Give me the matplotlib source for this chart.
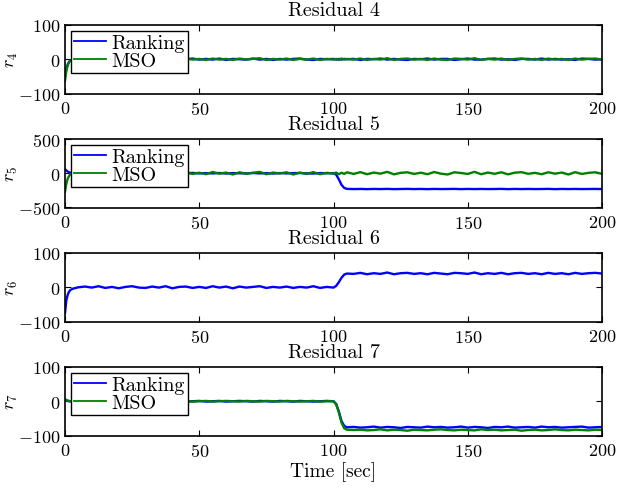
import matplotlib
matplotlib.use("Agg")
import matplotlib.pyplot as plt
from matplotlib.ticker import FuncFormatter

plt.rcParams['mathtext.fontset'] = 'cm'
plt.rcParams['font.family'] = 'serif'
plt.rcParams['font.serif'] = ['cmr10', 'DejaVu Serif']
plt.rcParams['axes.formatter.use_mathtext'] = True

# ---------------- data ----------------
T = [0, 0.5, 1, 1.5, 2, 3, 4, 5,
     7.5, 10, 12.5, 15, 17.5, 20, 22.5, 25, 27.5, 30,
     32.5, 35, 37.5, 40, 42.5, 45, 47.5, 50, 52.5, 55,
     57.5, 60, 62.5, 65, 67.5, 70, 72.5, 75, 77.5, 80,
     82.5, 85, 87.5, 90, 92.5, 95, 97.5, 100,
     101, 102, 103, 104, 105,
     107.5, 110, 112.5, 115, 117.5, 120, 122.5, 125, 127.5, 130,
     132.5, 135, 137.5, 140, 142.5, 145, 147.5, 150, 152.5, 155,
     157.5, 160, 162.5, 165, 167.5, 170, 172.5, 175, 177.5, 180,
     182.5, 185, 187.5, 190, 192.5, 195, 197.5, 200]

R4_RANKING = ([-48, -28, -15, -8, -3, -1, 0, 1] +
              [-1, 1, -2, 1, 2, -1, 0, -2, 1, 1,
               -1, 2, -1, 1, -2, 0, 2, -1, 1, -1,
               2, -2, 1, 0, -1, 2, -1, 1, -2, 1,
               -1, 1, 2, -1, -2, 1, 0, 1] +
              [-1, 1, -1, 1, 0] +
              [1, -2, 1, 0, 2, -1, 1, -1, -2, 1,
               0, 2, -1, 1, 1, -2, 0, 2, -1, -1,
               1, 2, -1, 0, -2, 1, 1, -1, 2, -1,
               1, -1, 0, -2, 2, 1, -1, 0])
R4_MSO = ([-62, -35, -18, -9, -4, -1, 1, -1] +
          [2, -1, 2, -2, 1, -2, 1, 3, -1, -2,
           1, -1, 2, -2, 1, 2, -1, 1, -2, 2,
           -1, 1, -2, 2, -1, 1, 3, -2, 1, -1,
           2, -2, 1, -1, 2, -2, 1, -1] +
          [1, -2, 2, -1, 1] +
          [-1, 2, -2, 1, -1, 3, -2, 1, 2, -1,
           1, -2, 2, -1, -2, 2, 1, -1, 3, -2,
           1, -1, 2, -2, 1, 2, -1, 1, -2, 2,
           -1, 1, -2, 2, -1, 1, 2, -1])

R5_RANKING = ([60, 40, 25, 15, 8, 3, 0, 2] +
              [-3, 4, -4, 2, 4, -2, 1, -5, 3, 2,
               -4, 4, -2, 3, -4, 1, 5, -2, 2, -2,
               4, -4, 2, 0, -3, 4, -2, 2, -4, 3,
               -2, 2, 4, -2, -4, 3, 0, 2] +
              [-20, -90, -170, -215, -228] +
              [-231, -229, -232, -229, -231, -228, -232, -230, -228, -231,
               -229, -232, -229, -231, -230, -228, -232, -229, -231, -229,
               -231, -230, -228, -232, -229, -231, -229, -231, -230, -228,
               -232, -229, -231, -229, -231, -230, -229, -231])
R5_MSO = ([-270, -150, -80, -40, -15, -5, 8, -8] +
          [14, -10, 16, -16, 4, -20, 10, 20, -8, -14,
           10, -8, 16, -16, 8, 14, -10, 8, -14, 18,
           -6, 10, -18, 14, -8, 6, 20, -14, 10, -4,
           14, -18, 8, -10, 16, -14, 6, -6] +
          [10, -14, 8, -10, 14] +
          [-10, 16, -14, 10, -6, 20, -16, 6, 14, -10,
           8, -14, 18, -6, -18, 14, 4, -10, 20, -14,
           10, -8, 14, -16, 8, 16, -8, 6, -14, 14,
           -6, 10, -18, 16, -10, 6, 14, -8])

R6_RANKING = ([-75, -38, -22, -13, -8, -4, -2, 0] +
              [2, -1, 3, -2, 1, -3, 1, 3, -1, -2,
               2, -1, 3, -3, 1, 2, -2, 1, -2, 3,
               -1, 2, -3, 2, -1, 1, 3, -2, 1, -1,
               2, -2, 1, -1, 3, -2, 1, -1] +
              [4, 15, 28, 37, 40] +
              [39, 42, 38, 41, 39, 43, 38, 41, 42, 39,
               41, 38, 42, 40, 38, 42, 41, 39, 43, 38,
               41, 39, 42, 38, 41, 42, 39, 41, 38, 42,
               39, 41, 38, 42, 39, 41, 42, 40])

R7_RANKING = ([3, 2, 1, 0, 0, 0, 0, 0] +
              [0, 1, -1, 0, 1, 0, -1, 1, 0, -1,
               1, 0, -1, 0, 1, -1, 0, 1, -1, 0,
               1, -1, 0, 1, 0, -1, 1, 0, -1, 1,
               0, -1, 1, 0, -1, 0, 1, 0] +
              [-8, -30, -58, -72, -76] +
              [-75, -77, -76, -74, -77, -75, -76, -78, -75, -76,
               -77, -74, -76, -75, -77, -76, -74, -77, -75, -76,
               -78, -75, -76, -74, -77, -76, -75, -77, -74, -76,
               -75, -77, -76, -75, -74, -77, -76, -75])
R7_MSO = ([6, 4, 2, 1, 0, 0, 0, 0] +
          [1, 0, -1, 1, 0, -1, 0, 1, -1, 0,
           0, 1, -1, 0, 1, 0, -1, 0, 1, -1,
           0, 1, 0, -1, 1, 0, -1, 1, 0, -1,
           1, 0, -1, 0, 1, -1, 0, 0] +
          [-9, -33, -63, -79, -83] +
          [-84, -83, -85, -84, -82, -85, -83, -84, -86, -83,
           -84, -85, -83, -82, -84, -85, -83, -84, -85, -82,
           -84, -83, -85, -84, -83, -86, -84, -83, -85, -84,
           -82, -84, -85, -83, -84, -85, -83, -84])

TITLES = ['Residual 4', 'Residual 5', 'Residual 6', 'Residual 7']
YLABELS = [r'$r_4$', r'$r_5$', r'$r_6$', r'$r_7$']
YLIMS = [100, 500, 100, 100]
XTICKS = [0, 50, 100, 150, 200]
SERIES_NAMES = ['Ranking', 'MSO']

PANELS = [
    (R4_RANKING, R4_MSO),
    (R5_RANKING, R5_MSO),
    (R6_RANKING, None),
    (R7_RANKING, R7_MSO),
]

BLUE = '#0000FF'
GREEN = '#008000'
FS = 13
FS_TEXT = 14.5

fig = plt.figure(figsize=(6.17, 4.89), dpi=100)
W, H = 617.0, 489.0
left_px, right_px = 65, 602
tops_px = [26, 140, 254, 368]
height_px = 68.5

fmt = FuncFormatter(lambda v, p: r'$%d$' % v)

for i, (rank, mso) in enumerate(PANELS):
    top = tops_px[i]
    ax = fig.add_axes([left_px / W, 1 - (top + height_px) / H,
                       (right_px - left_px) / W, height_px / H])
    ax.plot(T, rank, color=BLUE, lw=1.7, label=SERIES_NAMES[0])
    if mso is not None:
        ax.plot(T, mso, color=GREEN, lw=1.7, label=SERIES_NAMES[1])
        leg = ax.legend(loc='upper left', fontsize=FS_TEXT, fancybox=False,
                        framealpha=1, edgecolor='black',
                        borderaxespad=0.3, borderpad=0.15,
                        handlelength=1.6, handletextpad=0.25,
                        labelspacing=0.0)
        leg.get_frame().set_linewidth(1.0)
        for line in leg.get_lines():
            line.set_linewidth(1.3)
    lim = YLIMS[i]
    ax.set_xlim(0, 200)
    ax.set_ylim(-lim, lim)
    ax.set_xticks(XTICKS)
    ax.set_yticks([-lim, 0, lim])
    ax.xaxis.set_major_formatter(fmt)
    ax.yaxis.set_major_formatter(fmt)
    ax.tick_params(direction='in', top=True, right=True, length=4,
                   width=0.8, labelsize=FS)
    ax.tick_params(axis='x', pad=5)
    ax.tick_params(axis='y', pad=3.5)
    for s in ax.spines.values():
        s.set_linewidth(1.2)
    ax.set_title(TITLES[i], fontsize=FS_TEXT, pad=7)
    lab = ax.set_ylabel(YLABELS[i], fontsize=FS)
    lab.set_rotation_mode('default')
    lab.set_verticalalignment('center')
    lab.set_horizontalalignment('center')
    ax.yaxis.set_label_coords((12 - left_px) / (right_px - left_px), 0.5)
    if i == 3:
        ax.set_xlabel('Time [sec]', fontsize=14, labelpad=1)

fig.savefig('out.png', dpi=100)
